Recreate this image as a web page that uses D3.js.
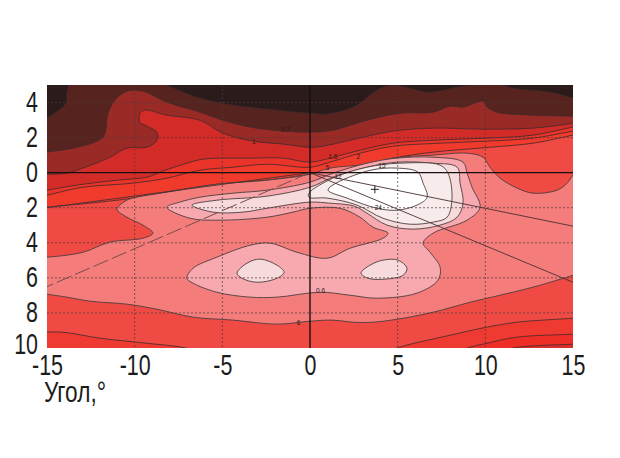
<!DOCTYPE html>
<html><head><meta charset="utf-8">
<script src="https://cdn.jsdelivr.net/npm/d3@7"></script>
<style>html,body{margin:0;padding:0;background:#fff}svg{display:block}</style>
</head><body><svg id="c" width="620" height="458"></svg>
<script>
// Angle in degrees: [horizontal, vertical]; vertical axis shows magnitude on both sides of 0
const xTicks=[-15,-10,-5,0,5,10,15];
const yTicks=[-4,-2,0,2,4,6,8,10];
const gridX=[-10,-5,5,10];
const gridY=[-4,-2,2,4,6,8];
const xTitle="Угол,";

const brown=[[-15.4,-2.88],[-15,-3.11],[-14.49,-3.45],[-13.92,-3.96],[-13.86,-4.59],[-13.75,-5.05],[-13.75,-5.39],[-10.84,-5.5],[-8.56,-5.39],[-8.1,-4.99],[-6.27,-4.25],[-4.39,-3.85],[-2.45,-3.62],[0,-3.39],[1.31,-3.39],[2.68,-3.85],[3.82,-4.71],[4.73,-4.99],[6.85,-4.59],[8.39,-4.88],[9.3,-4.99],[11.01,-4.99],[11.58,-4.82],[13.69,-4.59],[15,-4.25],[15.69,-4.08]];
const brick=[[-15.4,-1.11],[-15,-1.17],[-13.29,-1.45],[-11.81,-2.03],[-11.52,-3.39],[-11.12,-4.14],[-10.44,-4.65],[-9.53,-4.65],[-8.16,-4.02],[-6.27,-3.45],[-4.96,-2.99],[-3.42,-2.6],[-1.54,-2.37],[0,-2.31],[1.31,-2.42],[3.25,-2.99],[5.13,-3.39],[7.02,-3.45],[7.99,-3.79],[8.73,-3.74],[9.87,-4.08],[10.1,-3.74],[10.67,-3.45],[12.72,-3.28],[15,-3.22],[15.69,-3.17]];
const red1=[[-15.4,0.09],[-15,0.09],[-13.86,0.03],[-12.95,-0.26],[-11.41,-0.88],[-10.44,-1.4],[-9.3,-1.45],[-8.73,-1.85],[-8.73,-2.31],[-9.3,-2.65],[-9.7,-2.88],[-9.7,-3.39],[-9.41,-3.57],[-8.16,-3.28],[-6.27,-2.99],[-4.96,-2.25],[-3.25,-1.8],[-1.54,-1.63],[0,-1.45],[0.74,-1.51],[2.28,-1.85],[4.73,-2.37],[7.02,-2.54],[9.87,-2.48],[12.72,-2.54],[15,-2.82],[15.69,-2.94]];
const red2=[[-15.4,1.06],[-15,1],[-13.29,0.71],[-11.01,0.43],[-9.3,0.26],[-8.39,-0.09],[-7.02,-0.54],[-6.1,-0.77],[-3.25,-0.83],[-1.54,-0.83],[0,-0.6],[1.14,-0.83],[2.85,-1.28],[4.73,-1.68],[7.02,-1.85],[10.1,-1.97],[12.72,-2.14],[15,-2.6],[15.69,-2.71]];
const red3=[[-15.4,1.34],[-15,1.28],[-12.95,0.83],[-10.1,0.6],[-8.16,0.31],[-6.27,-0.14],[-4.39,-0.31],[-2.45,-0.48],[0,-0.31],[1.14,-0.6],[2.85,-1.11],[4.73,-1.51],[7.42,-1.68],[10.1,-1.8],[12.72,-1.97],[15,-2.37],[15.69,-2.48]];
const red4=[[-15.4,2.03],[-15,1.97],[-11.98,1.68],[-10.1,1.45],[-8.16,1.11],[-5.31,0.66],[-2.45,0.43],[0,0.09],[1.31,-0.14],[3.25,-0.48],[4.73,-0.83],[7.02,-1.17],[10.27,-1.45],[12.72,-1.68],[15,-2.14],[15.69,-2.25]];
const salmon=[[-15.4,4.82],[-15,4.82],[-12.95,4.54],[-11.41,3.96],[-9.53,3.74],[-8.96,3.45],[-9.53,2.99],[-10.44,2.54],[-11.01,2.08],[-10.55,1.63],[-10.1,1.45],[-8.16,1.11],[-5.31,0.66],[-2.45,0.43],[0,0.09],[1.14,-0.26],[3.25,-0.48],[4.73,-0.83],[7.02,-1],[8.96,-1.11],[9.87,-0.88],[10.27,-0.31],[10.84,0.31],[11.81,0.88],[12.72,1.17],[14.09,1],[14.66,0.6],[15,0.14],[15.69,-0.43],[15.69,5.56],[15,5.85],[14.09,6.13],[12.72,6.53],[10.84,6.99],[9.13,7.39],[7.02,7.96],[4.96,8.36],[3.59,8.53],[2.45,8.53],[1.31,8.41],[0,8.47],[-1.88,8.64],[-4.39,8.41],[-6.67,8.24],[-8.73,7.79],[-10.44,7.5],[-12.55,7.33],[-13.86,7.1],[-15,6.93],[-15.4,6.87]];
const pink=[[-8.16,1.97],[-7.42,1.68],[-6.27,1.4],[-4.39,1.17],[-2.45,1],[0,0.54],[1.31,0.03],[3.25,-0.54],[4.96,-0.83],[7.02,-0.88],[8.73,-0.6],[8.96,0.03],[9.24,0.83],[9.7,1.97],[8.96,2.71],[7.02,3.45],[6.45,4.02],[6.85,4.54],[7.42,5.39],[7.3,6.13],[6.1,6.87],[3.82,7.16],[2.28,6.99],[0.57,6.82],[-1.88,7.1],[-3.42,7.1],[-5.31,6.82],[-6.67,6.3],[-7.02,6.02],[-6.67,5.45],[-5.31,4.82],[-3.42,4.14],[-2.28,4.02],[-0.74,4.54],[0.97,4.88],[2.28,4.31],[4.16,3.74],[4.45,3.45],[3.59,3.11],[2.85,2.54],[1.71,2.03],[0,2.03],[-0.97,2.25],[-2.45,2.54],[-5.13,2.71],[-6.85,2.6]];
const blushLeft=[[-4.16,5.73],[-3.59,5.16],[-2.85,4.93],[-1.88,5.28],[-1.48,5.68],[-1.88,6.02],[-3.02,6.25],[-3.88,6.02]];
const blushRight=[[2.91,5.73],[3.42,5.28],[4.16,4.99],[5.02,4.99],[5.53,5.45],[5.31,5.85],[4.16,6.08],[3.31,6.02]];
const blush=[[-6.73,1.85],[-5.31,1.57],[-2.45,1.34],[0,0.83],[1.31,0.26],[3.25,-0.31],[4.96,-0.6],[7.02,-0.54],[8.39,-0.31],[8.56,0.6],[8.73,1.74],[8.39,2.54],[7.42,2.99],[5.88,3.22],[4.39,2.99],[3.25,2.31],[2.68,1.97],[2.28,1.85],[1.14,1.74],[0,1.68],[-2.45,2.03],[-3.82,2.25],[-5.53,2.25]];
const pale=[[-0.06,1.17],[1.31,0.31],[3.25,-0.31],[5.13,-0.54],[7.42,-0.43],[7.87,0.03],[8.1,1.4],[7.82,2.54],[7.02,2.82],[5.7,2.94],[4.16,2.6],[2.68,1.85],[0.97,1.45],[-0.06,1.4]];
const peak=[[1.03,1],[1.31,0.7],[3.42,-0.13],[4.96,-0.26],[6.15,-0.03],[6.45,0.6],[6.68,1.4],[6.1,1.85],[4.96,2.14],[3.82,2.03],[2.11,1.45]];
const lowA=[[-15.4,9.1],[-14.09,9.1],[-11.98,9.44],[-9.3,9.73],[-7.02,10.01],[-5.13,10.58]];
const lowB=[[4.56,10.24],[4.96,10.01],[7.99,9.27],[10.1,8.81],[11.81,8.53],[15,8.3],[15.69,8.24]];
const lowC=[[8.27,10.41],[8.96,10.01],[10.1,9.73],[11.81,9.38],[15,9.21],[15.69,9.16]];
const lowD=[[11.12,10.24],[11.58,10.01],[15,9.78],[15.69,9.73]];

const rayEnds=[[15,3.05],[15,6.25],[-15,2]];
const dashedRayEnd=[-15,6.5];
const centerMark=[3.7,0.95];
const contourLabels=[["0.5",0.75,-3.4],["0.7",-1.4,-2.4],["1",-3.2,-1.75],["1.6",1.3,-0.87],["2",2.75,-0.87],["5",1,-0.25],["15",4.1,-0.37],["12",1.6,0.26],["24",3.9,2.05],["0.6",0.6,6.75],["6",-0.65,8.6]];

const svg=d3.select("#c");
const x=d3.scaleLinear().domain([-15,15]).range([47,573]);
const y=d3.scaleLinear().domain([-5,10]).range([85,348]);
const lineOpen=d3.line().x(d=>x(d[0])).y(d=>y(d[1])).curve(d3.curveCatmullRom.alpha(0.5));
const lineClosed=d3.line().x(d=>x(d[0])).y(d=>y(d[1])).curve(d3.curveCatmullRomClosed.alpha(0.5));

svg.append("defs").append("clipPath").attr("id","plot").append("rect")
  .attr("x",x(-15)).attr("y",y(-5)).attr("width",x(15)-x(-15)).attr("height",y(10)-y(-5));
const g=svg.append("g").attr("clip-path","url(#plot)");
g.append("rect").attr("x",x(-15)).attr("y",y(-5)).attr("width",x(15)-x(-15)).attr("height",y(10)-y(-5)).attr("fill","#2c1b1b");

const edge="#3f2a2b";
function band(pts,color){
  const below=lineOpen(pts)+`L${x(pts[pts.length-1][0])},${y(12)}L${x(pts[0][0])},${y(12)}Z`;
  g.append("path").attr("d",below).attr("fill",color);
  g.append("path").attr("d",lineOpen(pts)).attr("fill","none").attr("stroke",edge).attr("stroke-width",0.8);
}
function blob(pts,color){
  g.append("path").attr("d",lineClosed(pts)).attr("fill",color).attr("stroke","#4d3d3e").attr("stroke-width",0.9);
}
band(brown,"#57231f");
band(brick,"#9a2a25");
band(red1,"#d32b28");
band(red2,"#ea342a");
band(red3,"#f03a2c");
band(red4,"#ef4a43");
band(lowA,"#ee3a30");
band(lowB,"#ee3a30");
band(lowC,"#ee2e27");
band(lowD,"#d5302b");
blob(salmon,"#f47d7b");
blob(pink,"#f8a9af");
blob(blushLeft,"#f7dbdc");
blob(blushRight,"#f7dbdc");
blob(blush,"#f7dbdc");
blob(pale,"#f8ebeb");
blob(peak,"#ffffff");

// dotted grid
gridX.forEach(v=>g.append("line").attr("x1",x(v)).attr("x2",x(v)).attr("y1",y(-5)).attr("y2",y(10))
  .attr("stroke","#4a3a3a").attr("stroke-width",0.7).attr("stroke-dasharray","2,2"));
gridY.forEach(v=>g.append("line").attr("y1",y(v)).attr("y2",y(v)).attr("x1",x(-15)).attr("x2",x(15))
  .attr("stroke","#4a3a3a").attr("stroke-width",0.7).attr("stroke-dasharray","2,2"));
// rays from the origin
rayEnds.forEach(e=>g.append("line").attr("x1",x(0)).attr("y1",y(0)).attr("x2",x(e[0])).attr("y2",y(e[1]))
  .attr("stroke","#4a3033").attr("stroke-width",0.9));
g.append("line").attr("x1",x(0)).attr("y1",y(0)).attr("x2",x(dashedRayEnd[0])).attr("y2",y(dashedRayEnd[1]))
  .attr("stroke","#7a4a4c").attr("stroke-width",1).attr("stroke-dasharray","16,4");
// zero axes
g.append("line").attr("x1",x(-15)).attr("x2",x(15)).attr("y1",y(0)).attr("y2",y(0)).attr("stroke","#161010").attr("stroke-width",1.4);
g.append("line").attr("x1",x(0)).attr("x2",x(0)).attr("y1",y(-5)).attr("y2",y(10)).attr("stroke","#161010").attr("stroke-width",1.4);
// centre cross
const cs=4;
g.append("path").attr("d",`M${x(centerMark[0])-cs},${y(centerMark[1])}h${2*cs}M${x(centerMark[0])},${y(centerMark[1])-cs}v${2*cs}`)
  .attr("stroke","#222").attr("stroke-width",1).attr("fill","none");
// contour labels
g.selectAll("text.cl").data(contourLabels).join("text").attr("class","cl")
  .attr("x",d=>x(d[1])).attr("y",d=>y(d[2])).attr("text-anchor","middle").attr("dominant-baseline","middle")
  .attr("font-family","Liberation Sans, sans-serif").attr("font-size",6.5).attr("fill","#2a1a1a").text(d=>d[0]);

const font="'Liberation Sans',sans-serif";
const squeeze="scale(0.74,1)";
const ink="#1c1c1c";
const xAxis=d3.axisBottom(x).tickValues(xTicks).tickFormat(d=>String(d)).tickSize(0).tickPadding(0);
const gx=svg.append("g").attr("transform",`translate(0,${y(10)})`).call(xAxis);
gx.select(".domain").remove();
gx.selectAll("text").attr("font-family",font).attr("font-size",29).attr("fill",ink).attr("dy",null).attr("y",27).attr("transform",squeeze);
const yAxis=d3.axisLeft(y).tickValues(yTicks).tickFormat(d=>String(Math.abs(d))).tickSize(0).tickPadding(0);
const gy=svg.append("g").attr("transform","translate(38,0)").call(yAxis);
gy.select(".domain").remove();
gy.selectAll("text").attr("font-family",font).attr("font-size",29).attr("fill",ink).attr("dy","0.35em")
  .attr("y",d=>d===10?-5:-1.5).attr("transform",squeeze);
const title=svg.append("text").attr("transform","translate(44,402) scale(0.78,1)").attr("font-family",font).attr("font-size",29).attr("fill",ink);
title.append("tspan").text(xTitle);
title.append("tspan").attr("font-size",30).attr("dy",0).text("°");
</script></body></html>
